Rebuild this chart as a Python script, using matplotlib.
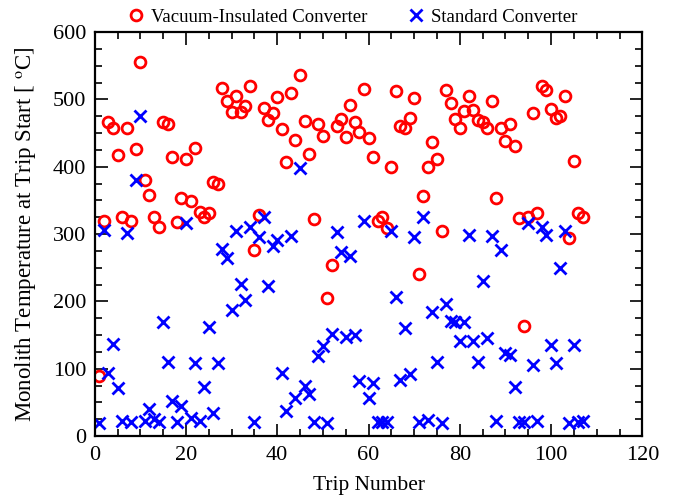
import matplotlib
matplotlib.use("Agg")
import matplotlib.pyplot as plt
from matplotlib.ticker import MultipleLocator

trips = list(range(1, 108))

vacuum = [90, 320, 467, 457, 417, 326, 457, 320, 426, 555,
          381, 358, 326, 310, 467, 464, 415, 318, 353, 411,
          349, 428, 333, 326, 332, 378, 375, 517, 498, 482,
          505, 482, 491, 520, 277, 329, 488, 470, 480, 504,
          456, 407, 510, 440, 537, 468, 419, 322, 464, 446,
          205, 254, 461, 471, 445, 492, 466, 452, 516, 443,
          414, 320, 326, 309, 400, 513, 461, 458, 473, 502,
          241, 357, 400, 437, 411, 304, 514, 495, 471, 458,
          483, 505, 485, 470, 466, 458, 498, 354, 458, 439,
          464, 431, 324, 163, 326, 480, 331, 520, 514, 486,
          473, 476, 505, 295, 408, 332, 325]

standard = [20, 306, 93, 137, 71, 23, 302, 21, 380, 476,
            22, 40, 26, 21, 170, 110, 52, 21, 44, 316,
            27, 109, 22, 73, 162, 35, 109, 278, 265, 187,
            304, 226, 202, 311, 21, 296, 325, 223, 283, 291,
            94, 37, 297, 57, 398, 74, 62, 21, 119, 134,
            20, 151, 303, 273, 147, 267, 150, 82, 319, 57,
            79, 21, 21, 21, 304, 206, 84, 160, 92, 296,
            21, 326, 24, 185, 110, 20, 196, 171, 170, 141,
            170, 299, 141, 110, 230, 145, 297, 23, 276, 123,
            120, 73, 21, 21, 317, 105, 22, 311, 299, 135,
            109, 249, 305, 20, 135, 21, 22]

labels = ["Vacuum-Insulated Converter", "Standard Converter"]

plt.rcParams['font.family'] = ['Liberation Serif', 'DejaVu Serif']
plt.rcParams['mathtext.fontset'] = 'stix'

fig = plt.figure(figsize=(6.74, 4.95), dpi=100)
ax = fig.add_axes([0.1405, 0.119, 0.8125, 0.816])

ax.plot(trips, vacuum, linestyle='none', marker='o', markersize=7.8,
        markerfacecolor='none', markeredgecolor='#ff0000', markeredgewidth=2.0,
        label=labels[0])
ax.plot(trips, standard, linestyle='none', marker='x', markersize=8,
        color='#0000ff', markeredgewidth=2.0, label=labels[1])

ax.set_xlim(0, 120)
ax.set_ylim(0, 600)
ax.xaxis.set_major_locator(MultipleLocator(20))
ax.xaxis.set_minor_locator(MultipleLocator(5))
ax.yaxis.set_major_locator(MultipleLocator(100))
ax.yaxis.set_minor_locator(MultipleLocator(25))
ax.tick_params(which='both', direction='in', top=True, right=True,
               labelsize=16, width=1.2, colors='black')
ax.tick_params(which='major', length=9)
ax.tick_params(which='minor', length=5)
ax.tick_params(axis='x', which='major', pad=7)
ax.tick_params(axis='y', which='major', pad=6)
for s in ax.spines.values():
    s.set_linewidth(1.6)

ax.set_xlabel("Trip Number", fontsize=15.5, labelpad=8)
ax.set_ylabel("Monolith Temperature at Trip Start [ $^{\\rm o}$C]", fontsize=16.5, labelpad=11)

ax.legend(loc='lower center', bbox_to_anchor=(0.471, 0.988), ncol=2, frameon=False,
          fontsize=13.5, handlelength=0.8, handletextpad=0.4, columnspacing=2.2,
          borderaxespad=0.2)

fig.savefig("out.png", dpi=100)
